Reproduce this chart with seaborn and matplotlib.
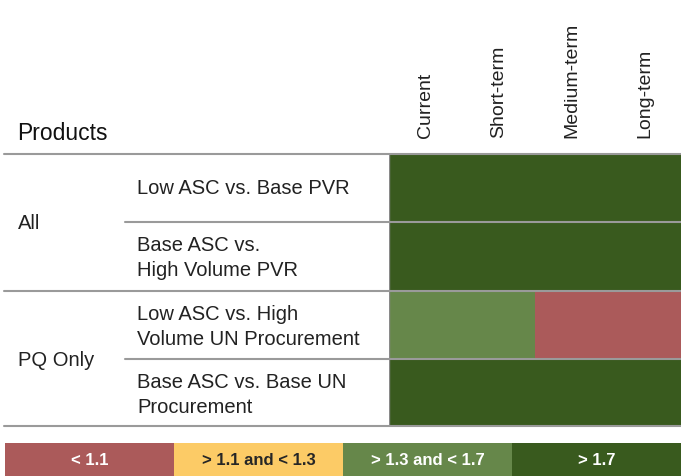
import numpy as np
import pandas as pd
import seaborn as sns
import matplotlib.pyplot as plt
from matplotlib.colors import ListedColormap
from matplotlib.lines import Line2D

categories = ['< 1.1', '> 1.1 and < 1.3', '> 1.3 and < 1.7', '> 1.7']
colors = ['#ab5a5a', '#fccb66', '#66874a', '#395a1e']
periods = ['Current', 'Short-term', 'Medium-term', 'Long-term']
groups = ['All', 'PQ Only']
comparisons = ['Low ASC vs. Base PVR',
               'Base ASC vs.\nHigh Volume PVR',
               'Low ASC vs. High\nVolume UN Procurement',
               'Base ASC vs. Base UN\nProcurement']
# index into categories
levels = [[3, 3, 3, 3],
          [3, 3, 3, 3],
          [2, 2, 0, 0],
          [3, 3, 3, 3]]

sns.set_style('white')
plt.rcParams['font.family'] = ['Liberation Sans', 'DejaVu Sans']

W, H = 681, 477
fig = plt.figure(figsize=(W / 100, H / 100), dpi=100)
cmap = ListedColormap(colors)

df = pd.DataFrame(levels, index=comparisons, columns=periods)
ax = fig.add_axes([389 / W, 1 - 427 / H, 292 / W, 272 / H])
sns.heatmap(df, ax=ax, cmap=cmap, vmin=-0.5, vmax=3.5, cbar=False, linewidths=0)
ax.axvline(0, color='#8a8a8a', lw=1)
ax.xaxis.tick_top()
ax.set_xticklabels(periods, rotation=90, fontsize=14, color='#222222')
for t in ax.get_xticklabels():
    t.set_x(t.get_position()[0])
ax.tick_params(length=0, pad=12)
ax.set_yticks([])
ax.set_xlabel('')
ax.set_ylabel('')

# row labels
row_y = [189, 258, 327, 395]
for lab, y in zip(comparisons, row_y):
    fig.text(137 / W, 1 - y / H, lab, ha='left', va='center', fontsize=14.5,
             color='#222222', linespacing=1.35)
group_y = [224, 360]
for g, y in zip(groups, group_y):
    fig.text(18 / W, 1 - y / H, g, ha='left', va='center', fontsize=14.5, color='#222222')
fig.text(17 / W, 1 - 133 / H, 'Products', ha='left', va='center', fontsize=16.5, color='#111111')

# separators
for y, x0 in [(155, 4), (223, 125), (292, 4), (360, 125), (427, 4)]:
    fig.add_artist(Line2D([x0 / W, 1], [1 - y / H, 1 - y / H], color='#9a9a9a', lw=1.5,
                          transform=fig.transFigure))

# legend strip
lax = fig.add_axes([5 / W, 0, 676 / W, 33 / H])
sns.heatmap(np.array([[0, 1, 2, 3]]), ax=lax, cmap=cmap, vmin=-0.5, vmax=3.5, cbar=False,
            annot=np.array([categories]), fmt='',
            annot_kws={'fontsize': 12, 'fontweight': 'bold'})
lax.set_xticks([])
lax.set_yticks([])

fig.savefig('out.png', dpi=100)
